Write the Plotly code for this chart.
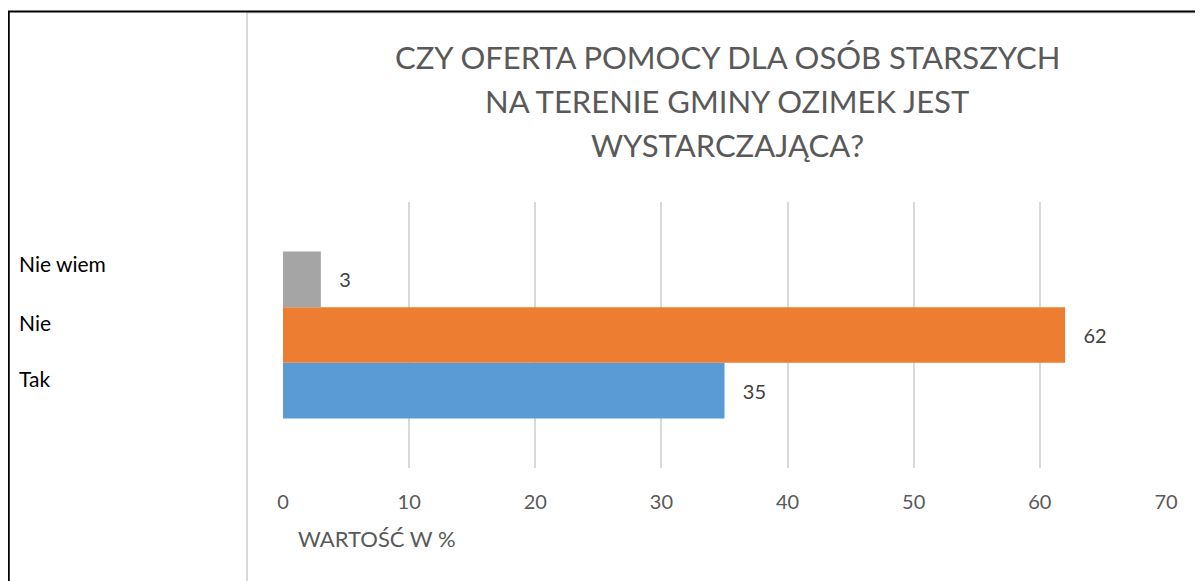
import plotly.graph_objects as go

categories = ["Tak", "Nie", "Nie wiem"]
values = [35, 62, 3]
colors = ["#5B9BD5", "#ED7D31", "#A5A5A5"]
legend_order = ["Nie wiem", "Nie", "Tak"]
title_lines = ["CZY OFERTA POMOCY DLA OSÓB STARSZYCH", "NA TERENIE GMINY OZIMEK JEST", "WYSTARCZAJĄCA?"]
x_ticks = [0, 10, 20, 30, 40, 50, 60, 70]
x_title = "WARTOŚĆ W %"

OFF = 8  # page body margin
SW, SH = 1203, 581
W, H = SW - OFF, SH - OFF
# screen-space plot area
L, R, T, B = 283, 1166, 202, 468

def px(x):
    return (x - L) / (R - L)

def py(y):
    return (B - y) / (B - T)

FONT = "Lato"
NB = "\u00a0" * 3
fig = go.Figure()
for cat, val, col in zip(categories, values, colors):
    fig.add_trace(go.Bar(
        y=[""], x=[val], orientation="h", name=cat,
        marker=dict(color=col, line=dict(width=0)),
        text=[NB + str(val)], textposition="outside",
        textfont=dict(family=FONT, size=20, color="#404040"),
        cliponaxis=False,
    ))

fig.update_layout(
    width=W, height=H,
    margin=dict(l=L - OFF, r=SW - R, t=T - OFF, b=SH - B, pad=0),
    paper_bgcolor="white", plot_bgcolor="white",
    barmode="group", bargap=0.372, bargroupgap=0,
    showlegend=False,
    font=dict(family=FONT),
    xaxis=dict(range=[0, 70], tickvals=x_ticks, showgrid=True, gridcolor="#D9D9D9", gridwidth=1.5,
               zeroline=False, showline=False, ticks="", ticklabelstandoff=20,
               tickfont=dict(family=FONT, size=20, color="#595959")),
    yaxis=dict(showticklabels=False, showgrid=False, zeroline=False, showline=False, range=[-0.5, 0.5]),
)

ann = []
for i, line in enumerate(title_lines):
    ann.append(dict(text=line, x=px(727), y=py(57 + 44 * i), xref="paper", yref="paper",
                    xanchor="center", yanchor="middle", showarrow=False,
                    font=dict(family=FONT, size=31, color="#595959")))
ann.append(dict(text=x_title, x=px(296), y=py(538), xref="paper", yref="paper",
                xanchor="left", yanchor="middle", showarrow=False,
                font=dict(family=FONT, size=22, color="#595959")))
for lab, yy in zip(legend_order, [263, 322, 378]):
    ann.append(dict(text=lab, x=px(17), y=py(yy), xref="paper", yref="paper",
                    xanchor="left", yanchor="middle", showarrow=False,
                    font=dict(family=FONT, size=21, color="#000000")))
fig.update_layout(annotations=ann)

shapes = [
    dict(type="line", xref="paper", yref="paper", x0=px(247), x1=px(247), y0=py(12), y1=py(SH + 5),
         line=dict(color="#D9D9D9", width=2)),
    dict(type="line", xref="paper", yref="paper", x0=px(247), x1=px(SW + 5), y0=py(13), y1=py(13),
         line=dict(color="#D9D9D9", width=1)),
    dict(type="line", xref="paper", yref="paper", x0=px(8.5), x1=px(8.5), y0=py(11), y1=py(SH + 5),
         line=dict(color="black", width=2.5)),
    dict(type="line", xref="paper", yref="paper", x0=px(7), x1=px(SW + 5), y0=py(11.5), y1=py(11.5),
         line=dict(color="black", width=2)),
]
fig.update_layout(shapes=shapes)

fig.write_html("out.html")
